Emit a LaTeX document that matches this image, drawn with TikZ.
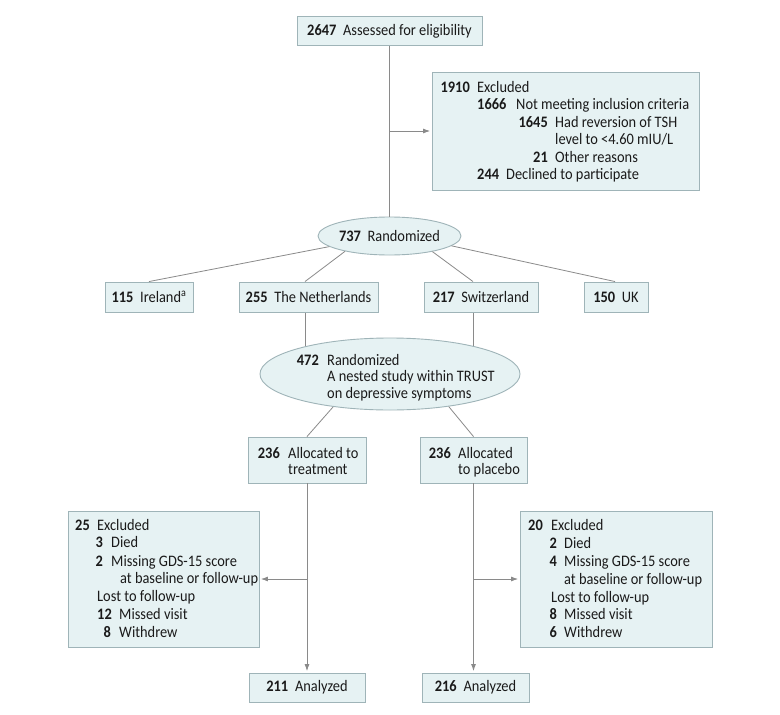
\documentclass[tikz,border=0pt]{standalone}
\usepackage{fontspec}
\setmainfont{Carlito}[FakeStretch=0.9]
\usetikzlibrary{shapes.geometric,arrows.meta,backgrounds}
\definecolor{boxfill}{HTML}{E6F2F3}
\definecolor{boxline}{HTML}{9FB4B8}
\definecolor{conn}{HTML}{8A8A8A}
\definecolor{ink}{HTML}{1A1A1A}
\newcommand{\numlbl}[1]{\textbf{#1}\hspace{0.42em}}
\begin{document}
\begin{tikzpicture}[x=1pt,y=-1pt,
  every node/.style={font=\fontsize{16}{17.5}\selectfont, text=ink},
  box/.style={draw=boxline, fill=boxfill, line width=0.9pt, inner sep=0pt, rectangle},
  oval/.style={draw=boxline, fill=boxfill, line width=0.9pt, inner sep=0pt, ellipse},
  txt/.style={anchor=base west, inner sep=0pt},
  num/.style={anchor=base east, inner sep=0pt},
  link/.style={draw=conn, line width=0.8pt},
  arr/.style={link, -{Latex[length=7pt,width=5pt]}, shorten >=1.5pt}]

\begin{scope}[on background layer]
  \fill[white] (0,0) rectangle (780,715);
\end{scope}
\useasboundingbox (0,0) rectangle (780,715);

% ---------- top ----------
\node[box, minimum width=185pt, minimum height=29pt] (assess) at (389.5,31) {\numlbl{2647}Assessed for eligibility};

\node[box, minimum width=267pt, minimum height=118pt] (exT) at (565.5,131) {};
\node[num] (exTn1) at (470,92) {\textbf{1910}};
\node[txt] (exTt1) at (477,92) {Excluded};
\node[txt] (exTn2) at (477,109.5) {\textbf{1666}};
\node[txt] (exTt2) at (516,109.5) {Not meeting inclusion criteria};
\node[num] (exTn3) at (548,127) {\textbf{1645}};
\node[txt] (exTt3) at (555,127) {Had reversion of TSH};
\node[txt] (exTt4) at (555,144.5) {level to <4.60 mIU/L};
\node[num] (exTn5) at (548,162) {\textbf{21}};
\node[txt] (exTt5) at (555,162) {Other reasons};
\node[txt] (exTn6) at (477,179.5) {\textbf{244}};
\node[txt] (exTt6) at (506,179.5) {Declined to participate};

\node[oval, minimum width=143pt, minimum height=38pt] (r737) at (389.5,236) {\numlbl{737}Randomized};

% ---------- countries ----------
\node[box, minimum width=88pt, minimum height=30pt] (ire) at (149,297) {\numlbl{115}Ireland\textsuperscript{a}};
\node[box, minimum width=139pt, minimum height=30pt] (neth) at (308.5,297) {\numlbl{255}The Netherlands};
\node[box, minimum width=114pt, minimum height=30pt] (swi) at (481,297) {\numlbl{217}Switzerland};
\node[box, minimum width=64pt, minimum height=30pt] (uk) at (616,297) {\numlbl{150}UK};

% ---------- nested study ----------
\node[oval, minimum width=260pt, minimum height=72pt] (r472) at (390,374) {};
\node[num] (r472n) at (319,365) {\textbf{472}};
\node[txt] (r472t1) at (327,365) {Randomized};
\node[txt] (r472t2) at (327,381.5) {A nested study within TRUST};
\node[txt] (r472t3) at (327,398) {on depressive symptoms};

% ---------- allocation ----------
\node[box, minimum width=118pt, minimum height=46pt] (allocL) at (307,460) {};
\node[num] (allocLn) at (280,458) {\textbf{236}};
\node[txt] (allocLt1) at (288,458) {Allocated to};
\node[txt] (allocLt2) at (288,474) {treatment};

\node[box, minimum width=107pt, minimum height=46pt] (allocR) at (473.5,460) {};
\node[num] (allocRn) at (451,458) {\textbf{236}};
\node[txt] (allocRt1) at (458,458) {Allocated};
\node[txt] (allocRt2) at (458,474) {to placebo};

% ---------- exclusions after allocation ----------
\node[box, minimum width=191pt, minimum height=136pt] (exL) at (163.5,579) {};
\node[num] (exLn1) at (90,530) {\textbf{25}};
\node[txt] (exLt1) at (97,530) {Excluded};
\node[num] (exLn2) at (103,547.5) {\textbf{3}};
\node[txt] (exLt2) at (111,547.5) {Died};
\node[num] (exLn3) at (103,566) {\textbf{2}};
\node[txt] (exLt3) at (111,566) {Missing GDS-15 score};
\node[txt] (exLt4) at (120,583) {at baseline or follow-up};
\node[txt] (exLt5) at (97,601) {Lost to follow-up};
\node[num] (exLn6) at (112,619) {\textbf{12}};
\node[txt] (exLt6) at (119,619) {Missed visit};
\node[num] (exLn7) at (111,637) {\textbf{8}};
\node[txt] (exLt7) at (119,637) {Withdrew};

\node[box, minimum width=192pt, minimum height=136pt] (exR) at (616,579) {};
\node[num] (exRn1) at (543,530.5) {\textbf{20}};
\node[txt] (exRt1) at (551,530.5) {Excluded};
\node[num] (exRn2) at (557,548) {\textbf{2}};
\node[txt] (exRt2) at (564,548) {Died};
\node[num] (exRn3) at (557,566) {\textbf{4}};
\node[txt] (exRt3) at (564,566) {Missing GDS-15 score};
\node[txt] (exRt4) at (564,584) {at baseline or follow-up};
\node[txt] (exRt5) at (551,602) {Lost to follow-up};
\node[num] (exRn6) at (557,619) {\textbf{8}};
\node[txt] (exRt6) at (564,619) {Missed visit};
\node[num] (exRn7) at (557,637) {\textbf{6}};
\node[txt] (exRt7) at (564,637) {Withdrew};

% ---------- analyzed ----------
\node[box, minimum width=116pt, minimum height=29pt] (anaL) at (307,687.5) {\numlbl{211}Analyzed};
\node[box, minimum width=107pt, minimum height=29pt] (anaR) at (475.5,687.5) {\numlbl{216}Analyzed};

% ---------- connectors ----------
\draw[link] (assess.south) -- (r737.north);
\draw[arr] (assess.south |- exT.west) -- (exT.west);

\draw[link] (r737.190) -- (ire.north);
\draw[link] (r737.199) -- ([xshift=-3.5pt]neth.north);
\draw[link] (r737.340) -- ([xshift=-8pt]swi.north);
\draw[link] (r737.351) -- ([xshift=-1pt]uk.north);

\begin{scope}[on background layer]
  \draw[link] ([xshift=-3.5pt]neth.south) -- ([xshift=-3.5pt]neth.south |- r472.center);
  \draw[link] ([xshift=-8pt]swi.south) -- ([xshift=-8pt]swi.south |- r472.center);
\end{scope}

\draw[link] (r472.210) -- (allocL.north);
\draw[link] (r472.331) -- (allocR.north);

\draw[arr] (allocL.south) -- (anaL.north);
\draw[arr] (allocR.south) -- (allocR.south |- anaR.north);
\draw[arr] (allocL.south |- exL.east) -- (exL.east);
\draw[arr] (allocR.south |- exR.west) -- (exR.west);
\end{tikzpicture}
\end{document}
